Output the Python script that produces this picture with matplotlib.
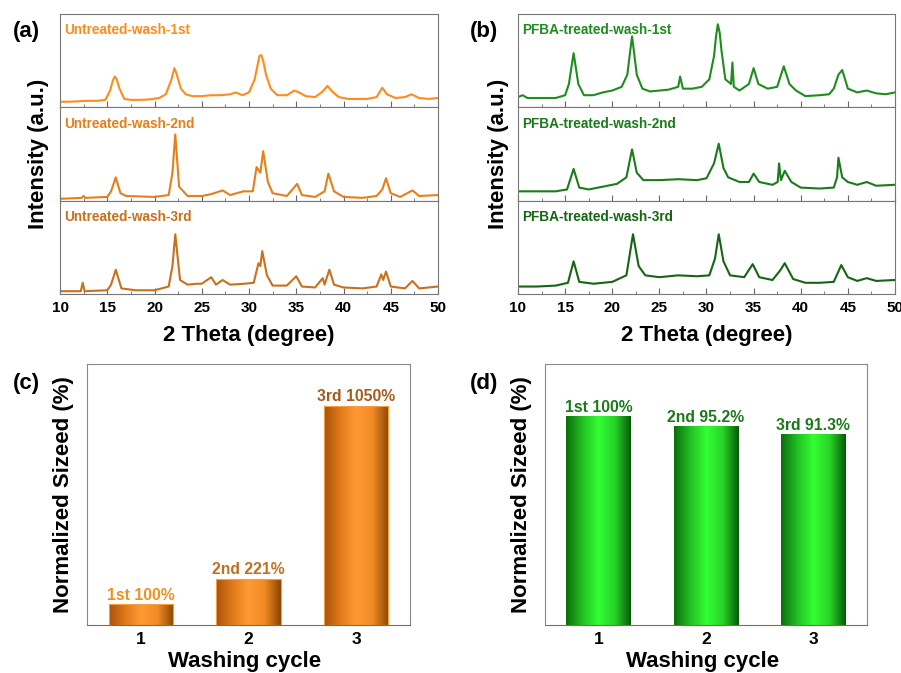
import numpy as np
import matplotlib
matplotlib.use("Agg")
import matplotlib.pyplot as plt
from matplotlib.colors import LinearSegmentedColormap

plt.rcParams['font.family'] = ['Liberation Sans', 'DejaVu Sans']
plt.rcParams['font.weight'] = 'bold'

# ---- XRD patterns (2theta, normalised intensity inside each strip) ----
a1_x = [10, 11, 12, 13, 14, 14.8, 15.3, 15.6, 15.8, 16.0, 16.3, 16.8, 17.5, 18.5, 19.5, 20.5, 21.2, 21.8, 22.0, 22.1,
        22.3, 22.5, 22.8, 23.3, 24, 25, 26, 27, 28, 28.6, 29.3, 30, 30.6, 30.9, 31.1, 31.3, 31.5, 31.8, 32.3, 33,
        34, 34.8, 35.3, 36, 37, 37.8, 38.3, 38.8, 39.5, 40.5, 41.5, 42.5, 43.5, 44.1, 44.6, 45.5, 46.5, 47.2, 48,
        49, 50]
a1_y = [0.06, 0.06, 0.065, 0.07, 0.07, 0.08, 0.18, 0.29, 0.33, 0.3, 0.2, 0.09, 0.08, 0.08, 0.085, 0.1, 0.14, 0.3,
        0.38, 0.42, 0.37, 0.3, 0.2, 0.14, 0.12, 0.12, 0.13, 0.13, 0.14, 0.16, 0.13, 0.16, 0.3, 0.45, 0.55, 0.56,
        0.5, 0.35, 0.2, 0.13, 0.13, 0.18, 0.16, 0.12, 0.11, 0.17, 0.23, 0.17, 0.11, 0.09, 0.09, 0.09, 0.11, 0.21,
        0.14, 0.1, 0.11, 0.14, 0.1, 0.09, 0.1]

a2_x = [10, 12.3, 12.5, 12.7, 15, 15.4, 15.9, 16.4, 17, 20, 21.5, 21.9, 22.2, 22.6, 23.5, 25, 26, 27.2, 28,
        29.4, 30.4, 30.8, 31.2, 31.5, 32, 32.5, 34, 35.1, 35.6, 37, 38.0, 38.4, 39, 40, 42, 43.5, 44.1, 44.5,
        45, 46, 47.3, 48, 50]
a2_y = [0.02, 0.03, 0.05, 0.03, 0.04, 0.1, 0.25, 0.08, 0.05, 0.04, 0.06, 0.3, 0.71, 0.15, 0.05, 0.05, 0.07, 0.11, 0.06,
        0.1, 0.1, 0.36, 0.3, 0.53, 0.2, 0.08, 0.05, 0.18, 0.06, 0.04, 0.1, 0.29, 0.1, 0.04, 0.03, 0.05, 0.12, 0.24,
        0.08, 0.04, 0.11, 0.05, 0.06]

a3_x = [10, 12.2, 12.4, 12.6, 15, 15.4, 15.9, 16.5, 18, 20, 21.5, 21.9, 22.2, 22.7, 23.5, 24.5, 25, 26, 26.5,
        27.2, 28, 29.5, 30.5, 31.0, 31.2, 31.4, 31.9, 32.5, 34, 35, 35.6, 37, 37.8, 38.0, 38.5, 39, 40, 42,
        43.5, 44.0, 44.2, 44.5, 45, 46.5, 47.3, 48, 50]
a3_y = [0.03, 0.03, 0.12, 0.03, 0.04, 0.1, 0.26, 0.06, 0.04, 0.04, 0.08, 0.3, 0.64, 0.15, 0.1, 0.11, 0.11, 0.18, 0.1,
        0.15, 0.1, 0.11, 0.12, 0.33, 0.3, 0.46, 0.2, 0.09, 0.09, 0.19, 0.08, 0.07, 0.17, 0.1, 0.26, 0.1, 0.07, 0.06,
        0.08, 0.21, 0.15, 0.24, 0.08, 0.06, 0.14, 0.06, 0.08]

b1_x = [10, 10.5, 11, 12, 13, 14, 15, 15.4, 15.7, 15.9, 16.1, 16.4, 17, 18, 19, 20, 21, 21.6, 21.9, 22.1, 22.3,
        22.6, 23.2, 24, 25, 26, 27.0, 27.2, 27.5, 28.5, 29.5, 30.3, 30.8, 31.0, 31.2, 31.4, 31.6, 32, 32.6, 32.75,
        32.9, 33.5, 34.5, 35.0, 35.5, 36.5, 37.5, 38.2, 38.8, 39.5, 40.5, 42, 43, 43.5, 44.0, 44.4, 45, 46, 47,
        48, 49, 50]
b1_y = [0.11, 0.13, 0.1, 0.1, 0.1, 0.1, 0.13, 0.25, 0.45, 0.58, 0.45, 0.25, 0.13, 0.13, 0.16, 0.18, 0.22, 0.35,
        0.6, 0.76, 0.6, 0.35, 0.2, 0.17, 0.18, 0.19, 0.22, 0.33, 0.2, 0.2, 0.22, 0.3, 0.55, 0.75, 0.89, 0.8, 0.6,
        0.3, 0.25, 0.48, 0.22, 0.18, 0.25, 0.42, 0.25, 0.2, 0.22, 0.44, 0.25, 0.18, 0.12, 0.13, 0.14, 0.2, 0.35,
        0.4, 0.2, 0.16, 0.18, 0.15, 0.14, 0.16]

b2_x = [10, 12, 14, 15.2, 15.9, 16.5, 17.5, 19, 20.5, 21.5, 22.1, 22.6, 23.3, 25, 27, 29, 30, 30.8, 31.3,
        31.8, 32.3, 33.5, 34.5, 35.0, 35.6, 37, 37.55, 37.7, 37.9, 38.3, 39, 40, 42, 43.5, 43.85, 44.0, 44.4,
        45, 46, 47, 48, 50]
b2_y = [0.1, 0.1, 0.1, 0.12, 0.34, 0.14, 0.12, 0.15, 0.18, 0.25, 0.55, 0.3, 0.22, 0.22, 0.23, 0.22, 0.24, 0.4, 0.61,
        0.35, 0.25, 0.2, 0.2, 0.29, 0.2, 0.17, 0.2, 0.4, 0.22, 0.32, 0.2, 0.14, 0.13, 0.14, 0.25, 0.46, 0.25,
        0.2, 0.17, 0.2, 0.16, 0.17]

b3_x = [10, 12, 14, 15.3, 15.9, 16.5, 18, 20, 21.5, 22.2, 22.8, 23.5, 25, 27, 29, 30.3, 30.9, 31.3, 31.8,
        32.5, 34, 34.9, 35.6, 37, 37.8, 38.3, 39.2, 40.5, 42, 43.5, 44.3, 45, 46, 47, 48, 50]
b3_y = [0.08, 0.08, 0.09, 0.12, 0.35, 0.13, 0.11, 0.13, 0.2, 0.64, 0.3, 0.2, 0.18, 0.2, 0.19, 0.2, 0.38, 0.64, 0.35,
        0.2, 0.18, 0.32, 0.18, 0.15, 0.25, 0.33, 0.16, 0.12, 0.12, 0.13, 0.31, 0.18, 0.14, 0.17, 0.14, 0.15]

untreated_labels = ['Untreated-wash-1st', 'Untreated-wash-2nd', 'Untreated-wash-3rd']
treated_labels = ['PFBA-treated-wash-1st', 'PFBA-treated-wash-2nd', 'PFBA-treated-wash-3rd']
untreated_colors = ['#ff8c1a', '#e57f19', '#c8701e']
treated_colors = ['#1f8c1f', '#1b7a1b', '#166416']

# ---- bar data ----
cycles = [1, 2, 3]
untreated_size = [100, 221, 1050]
treated_size = [100, 95.2, 91.3]
untreated_bar_text = ['1st 100%', '2nd 221%', '3rd 1050%']
treated_bar_text = ['1st 100%', '2nd 95.2%', '3rd 91.3%']
untreated_text_colors = ['#f0901e', '#c0701e', '#a85a18']

W, H = 901, 673
fig = plt.figure(figsize=(W / 100, H / 100), dpi=100)


def box(l, t, r, b):
    return [l / W, 1 - b / H, (r - l) / W, (b - t) / H]


def xrd_panel(left, right, xs, ys, labels, colors):
    top, bottom = 14, 294
    h = (bottom - top) / 3
    for i in range(3):
        ax = fig.add_axes(box(left, top + i * h, right, top + (i + 1) * h))
        ax.plot(xs[i], ys[i], color=colors[i], lw=1.5)
        ax.set_xlim(10, 50)
        ax.set_ylim(0, 1)
        ax.set_yticks([])
        ax.set_xticks(np.arange(10, 51, 5))
        ax.set_xticks(np.arange(12.5, 50, 5), minor=True)
        ax.tick_params(axis='x', which='major', direction='in', length=4, color='#666666')
        ax.tick_params(axis='x', which='minor', direction='in', length=2.5, color='#666666')
        for s in ax.spines.values():
            s.set_color('#777777')
        ax.text(0.012, 0.9, labels[i], transform=ax.transAxes, color=colors[i],
                fontsize=9.8, fontweight='bold', va='top', ha='left')
        if i < 2:
            ax.set_xticklabels([])
        else:
            ax.tick_params(axis='x', labelsize=11, pad=5)
            for lb in ax.get_xticklabels():
                lb.set_fontweight('bold')


xrd_panel(60, 438, [a1_x, a2_x, a3_x], [a1_y, a2_y, a3_y], untreated_labels, untreated_colors)
xrd_panel(518, 895, [b1_x, b2_x, b3_x], [b1_y, b2_y, b3_y], treated_labels, treated_colors)

for cx, px in [(249, 39), (707, 498)]:
    fig.text(px / W, 1 - 154 / H, 'Intensity (a.u.)', rotation=90, ha='center', va='center',
             fontsize=16, fontweight='bold')
    fig.text(cx / W, 1 - 335 / H, '2 Theta (degree)', ha='center', va='center',
             fontsize=16, fontweight='bold')

orange_cmap = LinearSegmentedColormap.from_list('org', ['#a8520a', '#e07a1a', '#ff9a33', '#f28a25', '#8c4505'])
green_cmap = LinearSegmentedColormap.from_list('grn', ['#0b6e0b', '#22c022', '#33ff33', '#28d428', '#085a08'])


def bar_panel(left, right, values, texts, text_colors, cmap, ymax, edge):
    ax = fig.add_axes(box(left, 364, right, 625))
    bars = ax.bar(cycles, values, width=0.6, color='none', edgecolor=edge, lw=0.8, zorder=3)
    grad = np.linspace(0, 1, 256).reshape(1, -1)
    for b in bars:
        x0, w, hgt = b.get_x(), b.get_width(), b.get_height()
        im = ax.imshow(grad, cmap=cmap, aspect='auto', extent=[x0, x0 + w, 0, hgt], zorder=2)
        im.set_clip_path(b)
    for c, v, t, tc in zip(cycles, values, texts, text_colors):
        ax.text(c, v + ymax * 0.006, t, ha='center', va='bottom', color=tc, fontsize=11.3, fontweight='bold')
    ax.set_xlim(0.5, 3.5)
    ax.set_ylim(0, ymax)
    ax.set_yticks([])
    ax.set_xticks(cycles)
    ax.tick_params(axis='x', length=0, labelsize=12.5, pad=5)
    for lb in ax.get_xticklabels():
        lb.set_fontweight('bold')
    for s in ax.spines.values():
        s.set_color('#888888')
    ax.spines['bottom'].set_color('#a0622d')


bar_panel(87, 410, untreated_size, untreated_bar_text, untreated_text_colors, orange_cmap, 1250, '#f5a040')
bar_panel(545, 867, treated_size, treated_bar_text, ['#1a7a1a'] * 3, green_cmap, 125, 'none')

for cx, px in [(245, 64), (703, 522)]:
    fig.text(px / W, 1 - 495 / H, 'Normalized Sizeed (%)', rotation=90, ha='center', va='center',
             fontsize=16, fontweight='bold')
    fig.text(cx / W, 1 - 661 / H, 'Washing cycle', ha='center', va='center',
             fontsize=16, fontweight='bold')

for lbl, x, y in [('(a)', 26, 31), ('(b)', 484, 31), ('(c)', 26, 383), ('(d)', 484, 383)]:
    fig.text(x / W, 1 - y / H, lbl, ha='center', va='center', fontsize=16, fontweight='bold')

fig.savefig('out.png', dpi=100)
